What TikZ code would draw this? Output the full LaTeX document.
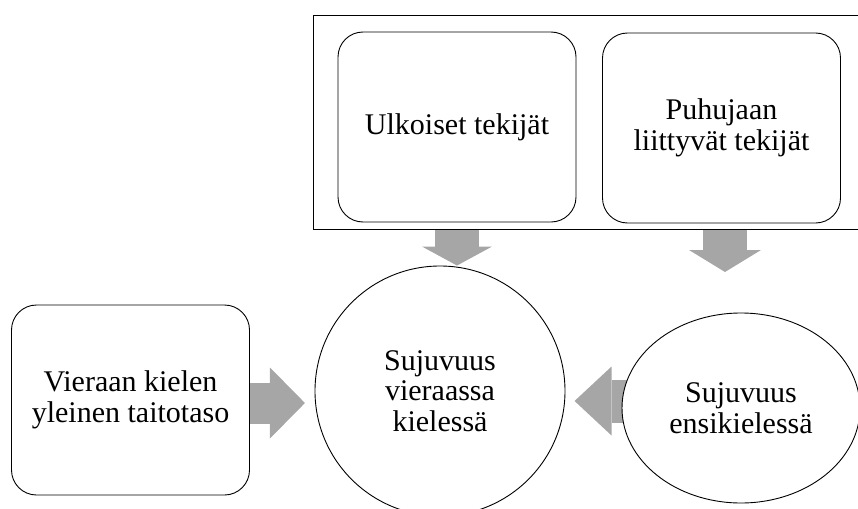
\documentclass[tikz,border=0pt]{standalone}
\usepackage{fontspec}
\setmainfont{Liberation Serif}
\usetikzlibrary{arrows.meta,shapes.geometric,backgrounds}
\definecolor{arrowgray}{RGB}{166,166,166}
\tikzset{
  txt/.style={align=center, font=\fontsize{30}{30.5}\selectfont},
  outline/.style={draw=black, line width=0.9pt, fill=white},
  roundbox/.style={outline, txt, rounded corners=25pt, minimum width=238pt, minimum height=190pt, inner sep=0pt},
  fat/.style={draw=arrowgray, line cap=butt},
}
\begin{document}
\begin{tikzpicture}[x=1pt,y=-1pt]
\useasboundingbox (0,0) rectangle (858,508);
% frame around top boxes
\node (frame) [draw=black, line width=0.9pt, minimum width=547pt, minimum height=214pt, inner sep=0pt, anchor=north west] at (313,15) {};
\node (top1) [roundbox] at (457,127) {Ulkoiset tekijät};
\node (top2) [roundbox] at (721.5,128) {Puhujaan\\liittyvät tekijät};
\node (left) [roundbox] at (130.5,400) {Vieraan kielen\\yleinen taitotaso};
\node (mid) [outline, txt, circle, minimum size=250pt, inner sep=0pt] at (440,391) {Sujuvuus\\vieraassa\\kielessä};
\node (ell) [outline, txt, ellipse, minimum width=238pt, minimum height=190pt, inner sep=0pt] at (741,408) {Sujuvuus\\ensikielessä};
\coordinate (a2e) at (725,272);
\begin{scope}[on background layer]
\draw[fat, line width=44pt, -{Triangle[length=19pt, width=70pt, line width=0pt]}] (frame.south -| top1) -- (top1 |- mid.north);
\draw[fat, line width=44pt, -{Triangle[length=22pt, width=72pt, line width=0pt]}] (frame.south -| a2e) -- (a2e);
\draw[fat, line width=41pt, -{Triangle[length=35pt, width=71pt, line width=0pt]}] ([yshift=-3pt]left.east) -- ++(55,0);
\draw[fat, line width=43pt, -{Triangle[length=37pt, width=69pt, line width=0pt]}] ([shift={(8,-7)}]ell.west) -- ++(-55,0);
\end{scope}
\end{tikzpicture}
\end{document}
